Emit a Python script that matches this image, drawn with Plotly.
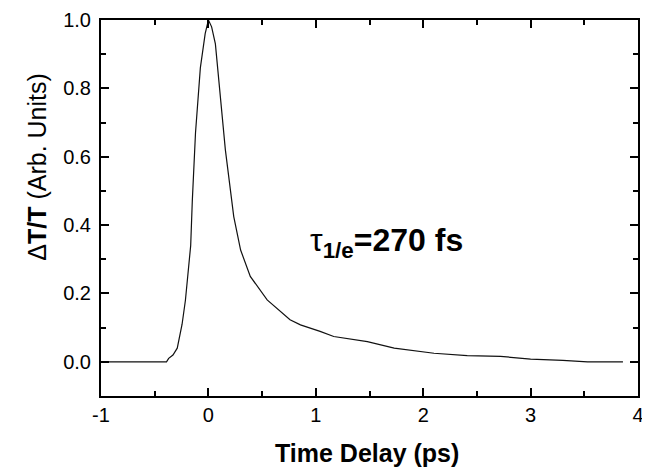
import plotly.graph_objects as go

time_ps = [-1.0, -0.6, -0.39, -0.37, -0.33, -0.29, -0.245, -0.214, -0.183, -0.165, -0.15,
           -0.12, -0.075, -0.03, 0.0, 0.03, 0.065, 0.11, 0.158, 0.236, 0.30, 0.39, 0.547,
           0.76, 0.857, 1.04, 1.167, 1.48, 1.73, 2.10, 2.41, 2.72, 3.0, 3.3, 3.53, 3.86]
dT_T = [0, 0, 0, 0.01, 0.02, 0.04, 0.11, 0.18, 0.28, 0.34, 0.47,
        0.67, 0.86, 0.96, 1.0, 0.98, 0.93, 0.77, 0.62, 0.425, 0.327, 0.25, 0.181,
        0.123, 0.108, 0.089, 0.074, 0.059, 0.040, 0.025, 0.018, 0.016, 0.008, 0.004, 0.0, 0.0]

x_ticks = [-1, 0, 1, 2, 3, 4]
y_ticks = [0.0, 0.2, 0.4, 0.6, 0.8, 1.0]
y_tick_labels = ["0.0", "0.2", "0.4", "0.6", "0.8", "1.0"]

FONT = "Liberation Sans, Arial, sans-serif"

fig = go.Figure()
fig.add_trace(go.Scatter(x=time_ps, y=dT_T, mode="lines",
                         line=dict(color="#111111", width=1.2), showlegend=False))

axis_common = dict(
    showgrid=False, zeroline=False, showline=True, linecolor="black", linewidth=2,
    mirror="allticks", ticks="inside", ticklen=8, tickwidth=2, tickcolor="black",
    tickfont=dict(family=FONT, size=20, color="black"), automargin=False,
)

fig.update_xaxes(range=[-1, 4], tickvals=x_ticks, ticktext=[str(v) for v in x_ticks],
                 minor=dict(dtick=0.5, tick0=0, ticks="inside", ticklen=5, tickwidth=2, tickcolor="black"),
                 **axis_common)
fig.update_yaxes(range=[-0.1, 1.0], tickvals=y_ticks, ticktext=y_tick_labels,
                 minor=dict(dtick=0.1, tick0=0, ticks="inside", ticklen=5, tickwidth=2, tickcolor="black"),
                 ticklabelstandoff=4,
                 **axis_common)

# page body adds an 8px offset, so the figure is drawn 8px smaller with margins trimmed
fig.update_layout(
    width=642, height=466,
    margin=dict(l=93, r=12, t=12, b=78),
    paper_bgcolor="white", plot_bgcolor="white",
    font=dict(family=FONT, color="black"),
    annotations=[
        dict(text="<b>Time Delay (ps)</b>", xref="paper", yref="paper", x=0.495, y=-0.152,
             xanchor="center", yanchor="middle", showarrow=False,
             font=dict(family=FONT, size=25, color="black")),
        dict(text="Δ<b>T/T</b> (Arb. Units)", xref="paper", yref="paper", x=-0.119, y=0.61,
             xanchor="center", yanchor="middle", textangle=-90, showarrow=False,
             font=dict(family=FONT, size=25, color="black")),
        dict(text="τ<sub><b>1/e</b></sub><b>=270 fs</b>", xref="x", yref="y", x=1.66, y=0.35,
             xanchor="center", yanchor="middle", showarrow=False,
             font=dict(family=FONT, size=32, color="black")),
    ],
)

fig.write_html("out.html")
